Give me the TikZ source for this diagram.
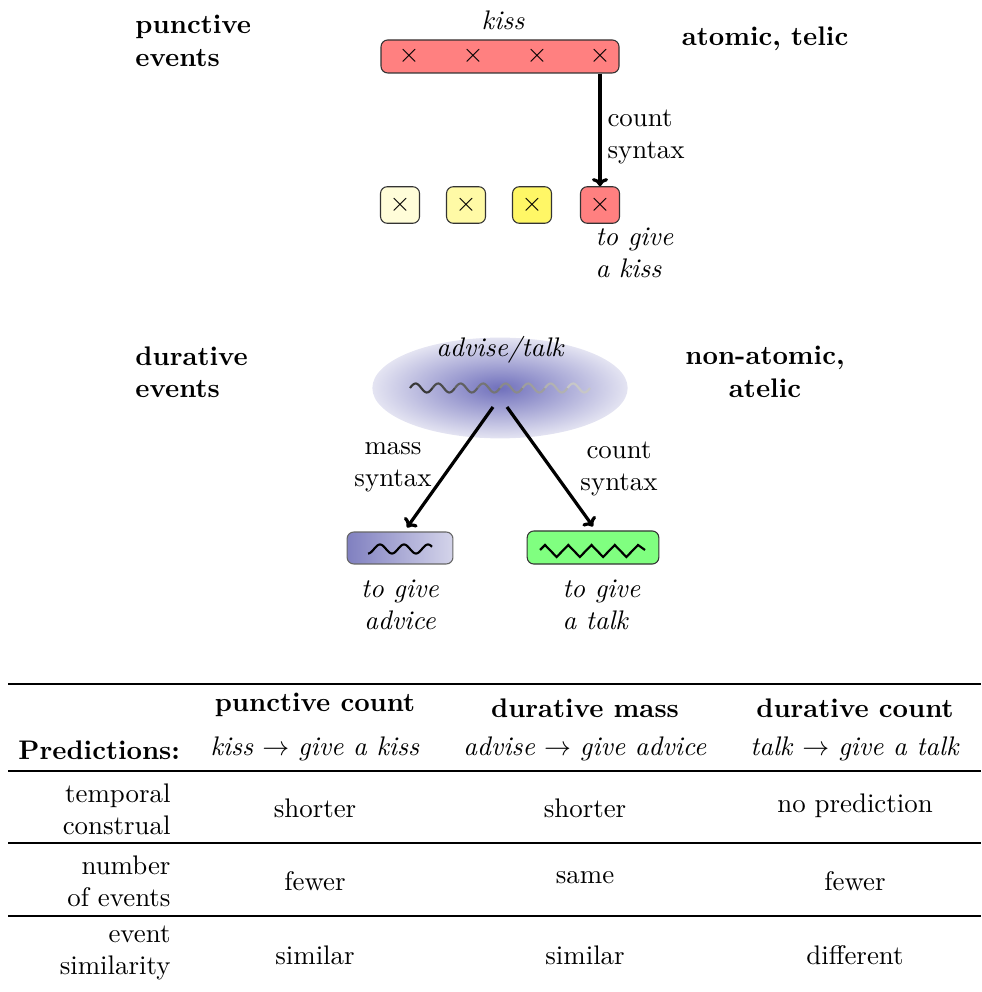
\documentclass[tikz,border=0pt]{standalone}
\usetikzlibrary{arrows.meta,shapes.geometric,fit}
\definecolor{blin}{RGB}{112,112,188}
\definecolor{blout}{RGB}{228,228,242}
\definecolor{bxl}{RGB}{128,128,192}
\definecolor{bxr}{RGB}{212,212,234}
\begin{document}
\begin{tikzpicture}[x=0.01307cm,y=-0.01307cm,
  lbl/.style={font=\bfseries,align=left,anchor=west},
  itl/.style={font=\itshape,align=left},
  sbox/.style={draw=black!80,rounded corners=2.5pt,minimum width=14.5pt,minimum height=13.6pt,inner sep=0pt},
  arr/.style={-{To[length=3pt,width=6pt]},line width=1.2pt},
  rule/.style={line width=0.4pt},
  rowh/.style={align=right,anchor=east}]
\useasboundingbox (0,0) rectangle (981,992);
% ---------- punctive ----------
\node[lbl] (pe) at (126,41) {punctive\\events};
\node[font=\bfseries] (at) at (765,39) {atomic, telic};
\node[itl] (kissl) at (503,20) {kiss};
\node[draw=black!80,rounded corners=2.5pt,fill=red!50,inner sep=0pt,fit={(381,40) (619,73)}] (bar) {};
\node (x1) at (409,56) {$\times$};
\node (x2) at (473,56) {$\times$};
\node (x3) at (537,56) {$\times$};
\node (x4) at (600,56) {$\times$};
\node[sbox,fill=yellow!15] (k1) at (400,205) {$\times$};
\node[sbox,fill=yellow!35] (k2) at (466,205) {$\times$};
\node[sbox,fill=yellow!60] (k3) at (532,205) {$\times$};
\node[sbox,fill=red!50] (k4) at (600,205) {$\times$};
\draw[arr] (x4 |- bar.south) -- (k4.north);
\node[align=left,anchor=west] (cs1) at (598,137) {count\\syntax};
\node[itl,anchor=west] (gk) at (586,253) {to give\\a kiss};
% ---------- durative ----------
\node[lbl] (de) at (126,372) {durative\\events};
\node[font=\bfseries,align=center] (na) at (765,372) {non-atomic,\\atelic};
\node[ellipse,minimum width=95pt,minimum height=37.5pt,inner sep=0pt,shading=radial,inner color=blin,outer color=blout] (src) at (500,388) {};
\node[itl] (avt) at (500,350) {advise/talk};
\foreach \i in {0,...,7}{
  \pgfmathsetmacro{\g}{78-8*\i}
  \draw[black!\g,line width=0.8pt] plot[domain={410+22.5*\i}:{410+22.5*(\i+1)},samples=20,smooth] (\x,{388-4.5*sin((\x-410)/22.5*360)});
}
\node[draw=black!60,rounded corners=2.5pt,minimum width=39.4pt,minimum height=11.9pt,inner sep=0pt,left color=bxl,right color=bxr] (adv) at (400,548) {};
\draw[line width=0.8pt] plot[domain=368:432,samples=60,smooth] (\x,{549+4.5*cos((\x-368)/24*360)});
\node[draw=black!80,rounded corners=2.5pt,minimum width=49pt,minimum height=12.3pt,inner sep=0pt,fill=green!50] (tlk) at (593,547.5) {};
\draw[line width=0.8pt] (540,550) -- (545,545)
  \foreach \k in {0,...,3}{ -- ({556.6+23.25*\k},557) -- ({568.25+23.25*\k},545)} -- (645,550);
\draw[arr] ([shift={(-7,19)}]src.center) -- ([shift={(7,-4)}]adv.north);
\draw[arr] ([shift={(7,19)}]src.center) -- ([shift={(0,-4)}]tlk.north);
\node[align=center] (ms) at (393,467) {mass\\syntax};
\node[align=center] (cs2) at (619,469) {count\\syntax};
\node[itl,align=center] (ga) at (400,605) {to give\\advice};
\node[itl,anchor=west] (gt) at (553,605) {to give\\a talk};
% ---------- table ----------
\coordinate (tl) at (8,684); \coordinate (tr) at (981,684);
\draw[rule] (tl) -- (tr);
\draw[rule] (8,771) -- (981,771);
\draw[rule] (8,843) -- (981,843);
\draw[rule] (8,916) -- (981,916);
\node[font=\bfseries] (h1) at (315,705) {punctive count};
\node[font=\bfseries] (h2) at (585,708) {durative mass};
\node[font=\bfseries] (h3) at (855,708) {durative count};
\node[font=\bfseries,anchor=west] (pr) at (9,750) {Predictions:};
\node (e1) at (315,749) {\textit{kiss} $\rightarrow$ \textit{give a kiss}};
\node (e2) at (585,749) {\textit{advise} $\rightarrow$ \textit{give advice}};
\node (e3) at (855,749) {\textit{talk} $\rightarrow$ \textit{give a talk}};
\node[rowh] (r1) at (180,809) {temporal\\construal};
\node[rowh] (r2) at (180,881) {number\\of events};
\node[rowh] (r3) at (180,953) {event\\similarity};
\node (c11) at (315,808) {shorter};
\node (c12) at (585,808) {shorter};
\node (c13) at (855,806) {no prediction};
\node (c21) at (315,881) {fewer};
\node (c22) at (585,878) {same};
\node (c23) at (855,881) {fewer};
\node (c31) at (315,955) {similar};
\node (c32) at (585,955) {similar};
\node (c33) at (855,955) {different};
\end{tikzpicture}
\end{document}
